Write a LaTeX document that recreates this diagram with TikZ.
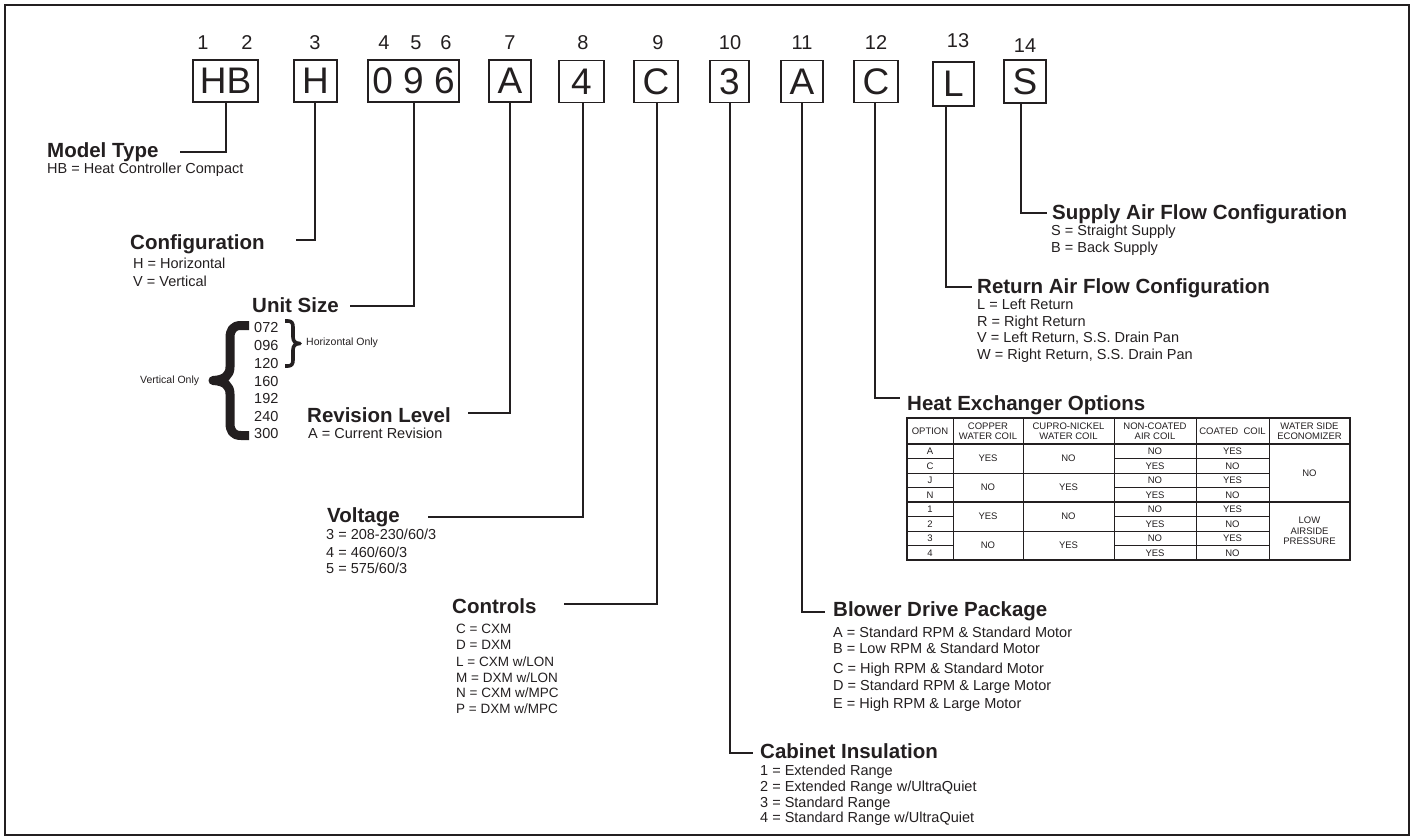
\documentclass[tikz,border=0pt]{standalone}
\usepackage{fontspec}
\setmainfont{Liberation Sans}
\definecolor{ink}{HTML}{231F20}
\begin{document}
\begin{tikzpicture}[x=1pt,y=-1pt, color=ink, every node/.style={text=ink},
 codebox/.style={draw=ink, line width=1.8pt, minimum height=42pt, inner sep=0pt, font=\fontsize{37}{40}\selectfont},
 posnum/.style={anchor=base, inner sep=0pt, font=\fontsize{20}{22}\selectfont},
 head/.style={anchor=base west, inner sep=0pt, font=\fontsize{20.5}{23}\selectfont\bfseries},
 item/.style={anchor=base west, inner sep=0pt, font=\fontsize{14.5}{16}\selectfont},
 itemsm/.style={anchor=base west, inner sep=0pt, font=\fontsize{13.5}{15}\selectfont},
 note/.style={anchor=base west, inner sep=0pt, font=\fontsize{10.5}{12}\selectfont},
 conn/.style={draw=ink, line width=1.5pt},
 bracestroke/.style={draw=ink, line join=round, line cap=butt},
 cell/.style={inner sep=0pt, align=center, font=\fontsize{9.5}{10.5}\selectfont},
 tthin/.style={draw=ink, line width=0.9pt},
 tthick/.style={draw=ink, line width=1.5pt}]
\useasboundingbox (0,0) rectangle (1414,840);
\draw[draw=ink, line width=2.5pt] (5,5) rectangle (1409,835);

% position numbers
\node[posnum] (n1) at (203,50) {1};
\node[posnum] (n2) at (247,50) {2};
\node[posnum] (n3) at (315,50) {3};
\node[posnum] (n4) at (384,50) {4};
\node[posnum] (n5) at (416,50) {5};
\node[posnum] (n6) at (446,50) {6};
\node[posnum] (n7) at (510,50) {7};
\node[posnum] (n8) at (583,50) {8};
\node[posnum] (n9) at (658,50) {9};
\node[posnum] (n10) at (730,50) {10};
\node[posnum] (n11) at (802,50) {11};
\node[posnum] (n12) at (876,50) {12};
\node[posnum] (n13) at (958,48) {13};
\node[posnum] (n14) at (1025,53) {14};

% code boxes
\node[codebox, minimum width=65pt] (bHB) at (225.5,81) {HB};
\node[codebox, minimum width=43pt] (bH) at (315.5,81) {H};
\node[codebox, minimum width=91pt] (bSize) at (413.5,81) {0 9 6};
\node[codebox, minimum width=42pt] (bRev) at (510,81) {A};
\node[codebox, minimum width=45pt] (bVolt) at (581.5,81.5) {4};
\node[codebox, minimum width=44pt] (bCtl) at (656,81.5) {C};
\node[codebox, minimum width=39pt] (bCab) at (729.5,81.5) {3};
\node[codebox, minimum width=42pt] (bBlw) at (802,81.5) {A};
\node[codebox, minimum width=44pt] (bHX) at (876,81.5) {C};
\node[codebox, minimum width=41pt, minimum height=44pt] (bRet) at (953.5,84) {L};
\node[codebox, minimum width=42pt, minimum height=43pt] (bSup) at (1025,81.5) {S};

% headings
\node[head] (hModel) at (47,158) {Model Type};
\node[head] (hConf) at (130,249) {Configuration};
\node[head] (hSize) at (252,312) {Unit Size};
\node[head] (hRev) at (307,422) {Revision Level};
\node[head] (hVolt) at (327,522) {Voltage};
\node[head] (hCtl) at (452,613) {Controls};
\node[head] (hBlw) at (833,616) {Blower Drive Package};
\node[head] (hCab) at (760,758) {Cabinet Insulation};
\node[head] (hHX) at (907,410) {Heat Exchanger Options};
\node[head] (hRet) at (977,293) {Return Air Flow Configuration};
\node[head] (hSup) at (1052,219) {Supply Air Flow Configuration};

% items
\node[item] (iModel) at (47,174) {HB = Heat Controller Compact};
\node[item] (iConf1) at (133,268) {H = Horizontal};
\node[item] (iConf2) at (133,286) {V = Vertical};
\foreach \yy/\t [count=\i] in {332/072,350/096,368/120,386/160,403/192,421/240,438/300}
  \node[item] (iSize\i) at (254,\yy) {\t};
\node[item] (iRev) at (308,438) {A = Current Revision};
\foreach \yy/\t [count=\i] in {539/{3 = 208-230/60/3},557/{4 = 460/60/3},573/{5 = 575/60/3}}
  \node[item] (iVolt\i) at (326,\yy) {\t};
\foreach \yy/\t [count=\i] in {633/{C = CXM},649/{D = DXM},666/{L = CXM w/LON},682/{M = DXM w/LON},697/{N = CXM w/MPC},713/{P = DXM w/MPC}}
  \node[itemsm] (iCtl\i) at (456,\yy) {\t};
\foreach \yy/\t [count=\i] in {637/{A = Standard RPM \& Standard Motor},653/{B = Low RPM \& Standard Motor},673/{C = High RPM \& Standard Motor},690/{D = Standard RPM \& Large Motor},708/{E = High RPM \& Large Motor}}
  \node[item] (iBlw\i) at (833,\yy) {\t};
\foreach \yy/\t [count=\i] in {775/{1 = Extended Range},791/{2 = Extended Range w/UltraQuiet},807/{3 = Standard Range},822/{4 = Standard Range w/UltraQuiet}}
  \node[item] (iCab\i) at (760,\yy) {\t};
\foreach \yy/\t [count=\i] in {309/{L = Left Return},326/{R = Right Return},342/{V = Left Return, S.S. Drain Pan},359/{W = Right Return, S.S. Drain Pan}}
  \node[item] (iRet\i) at (977,\yy) {\t};
\foreach \yy/\t [count=\i] in {235/{S = Straight Supply},252/{B = Back Supply}}
  \node[item] (iSup\i) at (1051,\yy) {\t};

% braces
\draw[bracestroke, line width=9pt] (249,325.5) -- (241,325.5) .. controls (233,325.5) and (230,330) .. (230,338) -- (230,367) .. controls (230,375) and (225,380) .. (213,380.5) .. controls (225,381) and (230,386) .. (230,394) -- (230,423) .. controls (230,431) and (233,435.5) .. (241,435.5) -- (249,435.5);
\draw[bracestroke, line width=3.6pt] (285,321) -- (288,321) .. controls (291.5,321) and (293,323) .. (293,327) -- (293,337) .. controls (293,341) and (295,343.5) .. (300,343.5) .. controls (295,343.5) and (293,346) .. (293,350) -- (293,360) .. controls (293,364) and (291.5,366) .. (288,366) -- (285,366);
\node[note] (nHor) at (306,345) {Horizontal Only};
\node[note] (nVer) at (140,383) {Vertical Only};

% connectors
\coordinate (cModel) at (226,152); \coordinate (eModel) at (180,152);
\coordinate (cConf) at (315,240); \coordinate (eConf) at (296,240);
\coordinate (cSize) at (414,306); \coordinate (eSize) at (350,306);
\coordinate (cRev) at (510,413); \coordinate (eRev) at (468,413);
\coordinate (cVolt) at (583,517); \coordinate (eVolt) at (428,517);
\coordinate (cCtl) at (657,604); \coordinate (eCtl) at (564,604);
\coordinate (cCab) at (730,753); \coordinate (eCab) at (753,753);
\coordinate (cBlw) at (802,612); \coordinate (eBlw) at (825,612);
\coordinate (cHX) at (875,398); \coordinate (eHX) at (900,398);
\coordinate (cRet) at (946,287); \coordinate (eRet) at (972,287);
\coordinate (cSup) at (1021,213); \coordinate (eSup) at (1047,213);
\draw[conn] (bHB.south -| cModel) -- (cModel) -- (eModel);
\draw[conn] (bH.south -| cConf) -- (cConf) -- (eConf);
\draw[conn] (bSize.south -| cSize) -- (cSize) -- (eSize);
\draw[conn] (bRev.south -| cRev) -- (cRev) -- (eRev);
\draw[conn] (bVolt.south -| cVolt) -- (cVolt) -- (eVolt);
\draw[conn] (bCtl.south -| cCtl) -- (cCtl) -- (eCtl);
\draw[conn] (bCab.south -| cCab) -- (cCab) -- (eCab);
\draw[conn] (bBlw.south -| cBlw) -- (cBlw) -- (eBlw);
\draw[conn] (bHX.south -| cHX) -- (cHX) -- (eHX);
\draw[conn] (bRet.south -| cRet) -- (cRet) -- (eRet);
\draw[conn] (bSup.south -| cSup) -- (cSup) -- (eSup);

% table
\foreach \xx in {953,1023,1114,1196,1269} \draw[tthin] (\xx,418) -- (\xx,560);
\foreach \yy in {458.5,473,487.5,516.5,531,545.5} {
  \draw[tthin] (907,\yy) -- (953,\yy);
  \draw[tthin] (1114,\yy) -- (1269,\yy);
}
\foreach \yy in {473,531} \draw[tthin] (953,\yy) -- (1114,\yy);
\draw[tthick] (907,444) -- (1350,444);
\draw[tthick] (907,502) -- (1350,502);
\draw[draw=ink, line width=1.8pt] (907,418) rectangle (1350,560);

\node[cell] (tH1) at (930,431) {OPTION};
\node[cell] (tH2) at (988,431) {COPPER\\WATER COIL};
\node[cell] (tH3) at (1068.5,431) {CUPRO-NICKEL\\WATER COIL};
\node[cell] (tH4) at (1155,431) {NON-COATED\\AIR COIL};
\node[cell] (tH5) at (1232.5,431) {COATED~ COIL};
\node[cell] (tH6) at (1309.5,431) {WATER SIDE\\ECONOMIZER};
\foreach \yy/\o/\nc/\co [count=\i] in {451.25/A/NO/YES,465.75/C/YES/NO,480.25/J/NO/YES,494.75/N/YES/NO,509.25/1/NO/YES,523.75/2/YES/NO,538.25/3/NO/YES,552.75/4/YES/NO} {
  \node[cell] (tO\i) at (930,\yy) {\o};
  \node[cell] (tN\i) at (1155,\yy) {\nc};
  \node[cell] (tC\i) at (1232.5,\yy) {\co};
}
\foreach \yy/\cu/\cn [count=\i] in {458.5/YES/NO,487.5/NO/YES,516.5/YES/NO,545.5/NO/YES} {
  \node[cell] (tCu\i) at (988,\yy) {\cu};
  \node[cell] (tCn\i) at (1068.5,\yy) {\cn};
}
\node[cell] (tW1) at (1309.5,473) {NO};
\node[cell] (tW2) at (1309.5,531) {LOW\\AIRSIDE\\PRESSURE};
\end{tikzpicture}
\end{document}
